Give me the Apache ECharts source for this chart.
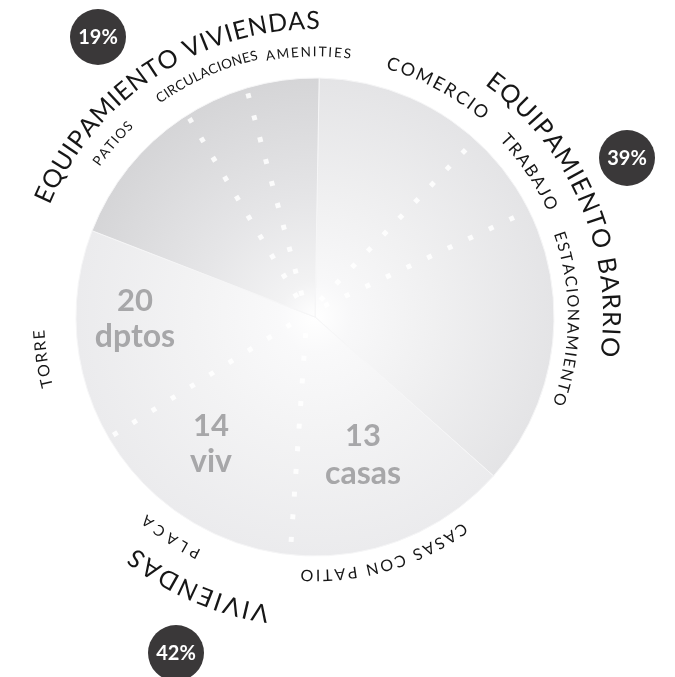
<!DOCTYPE html>
<html lang="es">
<head>
<meta charset="utf-8">
<title>Programa del conjunto</title>
<script src="https://cdn.jsdelivr.net/npm/echarts@6/dist/echarts.min.js"></script>
<style>
    html, body { margin: 0; padding: 0; background: #ffffff; }
    #grafico { width: 675px; height: 677px; }
</style>
</head>
<body>
<div id="grafico"></div>
<script>
// === DATOS ===
const sectores = ["EQUIPAMIENTO BARRIO", "VIVIENDAS", "EQUIPAMIENTO VIVIENDAS"];
const porcentajes = ["39%", "42%", "19%"];
// parte del circulo que ocupa cada sector tal como esta dibujado (%)
const partesDibujo = [36.3, 44.3, 19.4];
// angulos (grados, desde arriba, sentido horario) de las lineas punteadas
const divisiones = [44, 65, 184, 238, 329, 345];
const subsectores = ["COMERCIO", "TRABAJO", "ESTACIONAMIENTO", "CASAS CON PATIO", "PLACA", "TORRE",
    "PATIOS", "CIRCULACIONES", "AMENITIES"];
const cifras = ["20", "14", "13"];
const unidades = ["dptos", "viv", "casas"];

// === GEOMETRIA ===
const CX = 315, CY = 317, RADIO = 239;
const CENTRO_LINEAS = [307, 314];
const FUENTE = "Lato, 'Noto Sans', sans-serif";

// posicion de los textos curvos: [radio, angulo inicial, angulo final, tamano]
const posSectores = [[296, 37.5, 95.8, 25], [300, 190.5, 216.5, 25], [296, 294.3, 359.6, 25]];
const posSubsectores = [
    [264, 17.2, 38.8, 18], [261, 47.3, 64.1, 17], [258, 71.8, 108.6, 16],
    [258, 145.5, 181.8, 16], [264, 207, 219.3, 15], [276, 256.2, 266.3, 16],
    [267, 305.8, 315.6, 13.5], [268, 325, 346.8, 13.5], [265, 350.3, 367, 13.5]
];
const posPorcentajes = [[627, 158], [176, 653], [98, 37]];
const posCifras = [[135, 301, 337], [211, 426, 462], [363, 436, 474]];

const coloresSector = [
    ["#ffffff", "#f8f8f9", "#f0f0f1", "#e4e4e6"],
    ["#ffffff", "#f9f9fa", "#f3f3f4", "#ebebed"],
    ["#ffffff", "#f2f2f3", "#e5e5e7", "#d5d5d7"]
];

const medidor = document.createElement("canvas").getContext("2d");

function degradado(colores) {
    return {
        type: "radial", x: CX, y: CY, r: RADIO, global: true,
        colorStops: [
            { offset: 0, color: colores[0] },
            { offset: 0.15, color: colores[1] },
            { offset: 0.5, color: colores[2] },
            { offset: 1, color: colores[3] }
        ]
    };
}

// Texto que sigue el borde del circulo, letra por letra
function textoCurvo(texto, radio, desde, hasta, tamano) {
    const letras = [...texto];
    medidor.font = `${tamano}px ${FUENTE}`;
    const anchos = letras.map(c => medidor.measureText(c).width);
    const natural = anchos.reduce((a, b) => a + b, 0) - anchos[0] / 2 - anchos[anchos.length - 1] / 2;
    const arco = radio * (hasta - desde) * Math.PI / 180;
    const extra = (arco - natural) / (letras.length - 1);
    let pos = 0;
    return letras.map((c, i) => {
        if (i > 0) pos += anchos[i - 1] / 2 + anchos[i] / 2 + extra;
        const ang = desde * Math.PI / 180 + pos / radio;
        return {
            type: "text",
            x: CX + radio * Math.sin(ang),
            y: CY - radio * Math.cos(ang),
            rotation: -ang,
            silent: true,
            style: {
                text: c, fill: "#161616", font: `${tamano}px ${FUENTE}`,
                align: "center", verticalAlign: "middle"
            }
        };
    });
}

// largo de cada linea punteada hasta el borde del circulo
function finDeLinea(angulo) {
    const a = angulo * Math.PI / 180;
    const dx = Math.sin(a), dy = -Math.cos(a);
    const ox = CENTRO_LINEAS[0] - CX, oy = CENTRO_LINEAS[1] - CY;
    const b = ox * dx + oy * dy;
    const t = -b + Math.sqrt(b * b - (ox * ox + oy * oy) + RADIO * RADIO);
    return (t - 4) / RADIO;
}

document.addEventListener("DOMContentLoaded", () => {
    const chart = echarts.init(document.getElementById("grafico"), null, { renderer: "canvas" });

    let graficos = [];
    sectores.forEach((s, i) => {
        graficos = graficos.concat(textoCurvo(s, ...posSectores[i]));
    });
    subsectores.forEach((s, i) => {
        graficos = graficos.concat(textoCurvo(s, ...posSubsectores[i]));
    });

    // Porcentajes en circulos oscuros
    porcentajes.forEach((p, i) => {
        const [x, y] = posPorcentajes[i];
        graficos.push({
            type: "circle", silent: true, z: 5,
            shape: { cx: x, cy: y, r: 28 },
            style: { fill: "#3a3839" }
        });
        graficos.push({
            type: "text", x: x, y: y + 1, silent: true, z: 6,
            style: {
                text: p, fill: "#ffffff", font: `bold 20px ${FUENTE}`,
                align: "center", verticalAlign: "middle"
            }
        });
    });

    // Cantidades dentro de VIVIENDAS
    cifras.forEach((c, i) => {
        const [x, y1, y2] = posCifras[i];
        graficos.push({
            type: "text", x: x, y: y1, silent: true, z: 10,
            style: { text: c, fill: "#a7a7a9", font: `bold 31px ${FUENTE}`, align: "center", verticalAlign: "middle" }
        });
        graficos.push({
            type: "text", x: x, y: y2, silent: true, z: 10,
            style: { text: unidades[i], fill: "#a7a7a9", font: `bold 32px ${FUENTE}`, align: "center", verticalAlign: "middle" }
        });
    });

    const lineas = divisiones.map(a => ({
        type: "line",
        coordinateSystem: "polar",
        data: [[0.08, a], [finDeLinea(a), a]],
        symbol: "none",
        silent: true,
        z: 3,
        lineStyle: { color: "rgba(255,255,255,0.85)", width: 5, type: [5, 17.7], cap: "butt" }
    }));

    const option = {
        backgroundColor: "#ffffff",
        animation: false,
        polar: { center: CENTRO_LINEAS, radius: RADIO },
        angleAxis: { type: "value", min: 0, max: 360, startAngle: 90, clockwise: true, show: false },
        radiusAxis: { type: "value", min: 0, max: 1, show: false },
        series: [{
            type: "pie",
            center: [CX, CY],
            radius: [0, RADIO],
            startAngle: 89,
            clockwise: true,
            silent: true,
            label: { show: false },
            labelLine: { show: false },
            itemStyle: { borderColor: "#f6f6f7", borderWidth: 1 },
            data: sectores.map((s, i) => ({
                name: s,
                value: partesDibujo[i],
                itemStyle: { color: degradado(coloresSector[i]) }
            }))
        }].concat(lineas),
        graphic: { elements: graficos }
    };
    chart.setOption(option);
});
</script>
</body>
</html>
